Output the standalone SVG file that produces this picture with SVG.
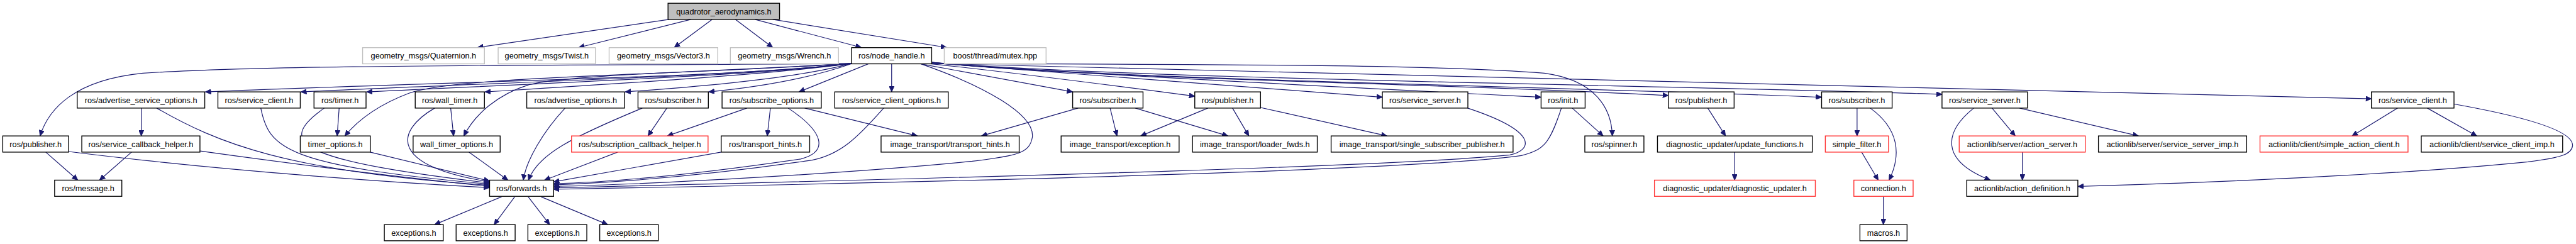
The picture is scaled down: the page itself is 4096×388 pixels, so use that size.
<svg xmlns="http://www.w3.org/2000/svg" width="4096" height="388" viewBox="0 0 4096 388">
<style>
.n rect{fill:#fff;stroke:#000;stroke-width:1.5}
.g rect{fill:#fff;stroke:#bfbfbf;stroke-width:1.5}
.r rect{fill:#fff;stroke:#ff3030;stroke-width:1.5}
.root rect{fill:#bfbfbf;stroke:#000;stroke-width:1.5}
text{font-family:"Liberation Sans",Arial,sans-serif;font-size:14px;fill:#000;text-anchor:middle}
#edges path{fill:none;stroke:#191970;stroke-width:1.3;marker-end:url(#ah)}
</style>
<defs>
<marker id="ah" markerUnits="userSpaceOnUse" markerWidth="11" markerHeight="9" refX="10" refY="4.5" orient="auto">
<path d="M0,0 L10,4.5 L0,9 z" fill="#191970" stroke="#191970" stroke-width="1"/>
</marker>
</defs>
<rect width="4096" height="388" fill="#fff"/>
<g transform="scale(0.90941)">
<g id="edges">
<path d="M1170,34 L835,83"/>
<path d="M1208,34 L1012,83"/>
<path d="M1245,34 L1179,83"/>
<path d="M1286,34 L1351,83"/>
<path d="M1320,34 L1506,83"/>
<path d="M1351,34 L1655,83"/>
<path d="M1489,111 C1000,115 500,112 250,128 C130,140 85,190 70,237.7"/>
<path d="M1489,111 C1300,135 800,142 359,160.7"/>
<path d="M1489,111 C1300,133 900,143 526,160.7"/>
<path d="M1489,111 C1320,132 1000,143 641,160.7"/>
<path d="M1489,111 C1150,133 800,133 715,163 C670,180 630,205 603,237.7"/>
<path d="M1489,111 C1350,130 1100,145 848,160.7"/>
<path d="M1489,111 C1250,125 1000,130 925,148 C870,165 830,200 811,237.7"/>
<path d="M1489,111 C1400,135 1250,150 1093,160.7"/>
<path d="M1490,111 C1430,132 1350,150 1239,160.7"/>
<path d="M1518,111.7 L1397,160.7"/>
<path d="M1559,111.7 L1559,160.7"/>
<path d="M1611,112 C1720,150 1810,200 1805,240 C1800,268 1780,272 1700,282 C1500,302 1150,322 968,326"/>
<path d="M1610,111.7 L1875.5,160.7"/>
<path d="M1629,111.7 C1800,130 1950,150 2089,168.3"/>
<path d="M1629,110 L2417,170"/>
<path d="M1629,110 C1900,130 2300,150 2694.5,170"/>
<path d="M1629,111 C2000,113 2500,111 2700,128 C2790,140 2818,190 2819,237.7"/>
<path d="M1629,109 C1900,138 2500,145 2917,167"/>
<path d="M1629,109 C1950,140 2700,150 3185,170"/>
<path d="M1629,109 C2000,140 3000,150 3395.5,165"/>
<path d="M1629,111 L4146.3,172.7"/>
<path d="M247,188.7 L247,237.7"/>
<path d="M274,189 C380,250 500,300 856,324"/>
<path d="M456,189 C470,260 500,290 856,322"/>
<path d="M567,189 C480,250 520,280 856,320"/>
<path d="M593,188.7 L589.5,237.7"/>
<path d="M80,266 L136,315"/>
<path d="M120,265 C400,300 700,320 856,328"/>
<path d="M230,266 L174,315"/>
<path d="M350,264 C500,285 700,310 856,326"/>
<path d="M647,266 L856,316.5"/>
<path d="M788,189 L793,237.7"/>
<path d="M760,189 C690,230 680,290 856,318"/>
<path d="M820,266 L888,315"/>
<path d="M988,189 C950,230 920,280 915,315"/>
<path d="M1123,189 C1000,240 940,270 924,315"/>
<path d="M1166,189 L1133,237.7"/>
<path d="M1306,189 L1167,237.7"/>
<path d="M1347,189 L1341.5,237.7"/>
<path d="M1378,189 C1440,230 1450,265 1400,278 C1250,300 1100,318 968,321"/>
<path d="M1407,189 L1604,237.7"/>
<path d="M1080,266 L952,315"/>
<path d="M1261,266 L968,318"/>
<path d="M1545,189 C1500,240 1470,270 1420,280 C1250,305 1100,318 968,323.5"/>
<path d="M2566,189 C2690,230 2680,262 2640,271 C2450,290 1800,308 968,328.5"/>
<path d="M2730,189 C2710,250 2700,262 2660,272 C2500,295 1800,316 968,331"/>
<path d="M1885,189 L1716,237.7"/>
<path d="M1941,189 L1953,237.7"/>
<path d="M1985,189 L2147,237.7"/>
<path d="M2112,189 L1994.5,237.7"/>
<path d="M2155,189 L2183.5,237.7"/>
<path d="M2204,188 L2425,237.7"/>
<path d="M2749,189 L2803,237.7"/>
<path d="M2986,189 L3017,237.7"/>
<path d="M3033,266 L3033,315"/>
<path d="M3247,189 L3247,237.7"/>
<path d="M3270,189 C3320,225 3325,270 3303,315"/>
<path d="M3255,266 L3284,315"/>
<path d="M3293,343.3 L3293,392.7"/>
<path d="M3451,189 C3400,230 3390,280 3480,315"/>
<path d="M3483,189 L3523.5,237.7"/>
<path d="M3531,189 L3739,237.7"/>
<path d="M3536,266 L3536,315"/>
<path d="M4192,189 L4112.5,237.7"/>
<path d="M4244,189 L4330.5,237.7"/>
<path d="M4291,182 C4420,205 4500,230 4498,255 C4496,270 4480,275 4420,283 C4200,305 3900,318 3633,326"/>
<path d="M877,344 L760,392.7"/>
<path d="M900,344 L864,392.7"/>
<path d="M923.5,344 L961,392.7"/>
<path d="M946,344 L1062.5,392.7"/>
</g>
<g id="n_root" class="root"><rect x="1168" y="5.7" width="195" height="28.3"/><text x="1265.5" y="24.9">quadrotor_aerodynamics.h</text></g>
<g id="n_quat" class="g"><rect x="634" y="83.3" width="213" height="28.3"/><text x="740.5" y="102.5">geometry_msgs/Quaternion.h</text></g>
<g id="n_twist" class="g"><rect x="871" y="83.3" width="170" height="28.3"/><text x="956" y="102.5">geometry_msgs/Twist.h</text></g>
<g id="n_vec3" class="g"><rect x="1065" y="83.3" width="190" height="28.3"/><text x="1160" y="102.5">geometry_msgs/Vector3.h</text></g>
<g id="n_wrench" class="g"><rect x="1277" y="83.3" width="189" height="28.3"/><text x="1371.5" y="102.5">geometry_msgs/Wrench.h</text></g>
<g id="n_node_handle" class="n"><rect x="1489" y="83.3" width="140" height="28.3"/><text x="1559" y="102.5">ros/node_handle.h</text></g>
<g id="n_boost" class="g"><rect x="1651" y="83.3" width="178" height="28.3"/><text x="1740" y="102.5">boost/thread/mutex.hpp</text></g>
<g id="n_adv_srv_opts" class="n"><rect x="135" y="160.7" width="223" height="28.3"/><text x="246.5" y="179.9">ros/advertise_service_options.h</text></g>
<g id="n_srv_client1" class="n"><rect x="381" y="160.7" width="144" height="28.3"/><text x="453" y="179.9">ros/service_client.h</text></g>
<g id="n_timer" class="n"><rect x="549" y="160.7" width="91" height="28.3"/><text x="594.5" y="179.9">ros/timer.h</text></g>
<g id="n_wall_timer" class="n"><rect x="726" y="160.7" width="121" height="28.3"/><text x="786.5" y="179.9">ros/wall_timer.h</text></g>
<g id="n_adv_opts" class="n"><rect x="921" y="160.7" width="171" height="28.3"/><text x="1006.5" y="179.9">ros/advertise_options.h</text></g>
<g id="n_subscriber1" class="n"><rect x="1115.5" y="160.7" width="123" height="28.3"/><text x="1177" y="179.9">ros/subscriber.h</text></g>
<g id="n_sub_opts" class="n"><rect x="1262.5" y="160.7" width="173.5" height="28.3"/><text x="1349.2" y="179.9">ros/subscribe_options.h</text></g>
<g id="n_srv_client_opts" class="n"><rect x="1459.5" y="160.7" width="198.5" height="28.3"/><text x="1558.7" y="179.9">ros/service_client_options.h</text></g>
<g id="n_subscriber2" class="n"><rect x="1875.5" y="160.7" width="123" height="28.3"/><text x="1937" y="179.9">ros/subscriber.h</text></g>
<g id="n_publisher2" class="n"><rect x="2089" y="160.7" width="115" height="28.3"/><text x="2146.5" y="179.9">ros/publisher.h</text></g>
<g id="n_srv_server1" class="n"><rect x="2417" y="160.7" width="149.5" height="28.3"/><text x="2491.7" y="179.9">ros/service_server.h</text></g>
<g id="n_init" class="n"><rect x="2694.5" y="160.7" width="77" height="28.3"/><text x="2733" y="179.9">ros/init.h</text></g>
<g id="n_publisher3" class="n"><rect x="2917" y="160.7" width="115" height="28.3"/><text x="2974.5" y="179.9">ros/publisher.h</text></g>
<g id="n_subscriber3" class="n"><rect x="3185" y="160.7" width="123.3" height="28.3"/><text x="3246.6" y="179.9">ros/subscriber.h</text></g>
<g id="n_srv_server2" class="n"><rect x="3395.5" y="160.7" width="149.5" height="28.3"/><text x="3470.2" y="179.9">ros/service_server.h</text></g>
<g id="n_srv_client2" class="n"><rect x="4146.3" y="160.7" width="144.4" height="28.3"/><text x="4218.5" y="179.9">ros/service_client.h</text></g>
<g id="n_publisher_l" class="n"><rect x="4.8" y="237.7" width="115.2" height="28.3"/><text x="62.4" y="256.9">ros/publisher.h</text></g>
<g id="n_srv_cb_helper" class="n"><rect x="143" y="237.7" width="206.6" height="28.3"/><text x="246.3" y="256.9">ros/service_callback_helper.h</text></g>
<g id="n_timer_opts" class="n"><rect x="525" y="237.7" width="122.5" height="28.3"/><text x="586.2" y="256.9">timer_options.h</text></g>
<g id="n_wall_timer_opts" class="n"><rect x="722.3" y="237.7" width="152.2" height="28.3"/><text x="798.4" y="256.9">wall_timer_options.h</text></g>
<g id="n_sub_cb_helper" class="r"><rect x="999.3" y="237.7" width="238.7" height="28.3"/><text x="1118.6" y="256.9">ros/subscription_callback_helper.h</text></g>
<g id="n_transport_hints" class="n"><rect x="1261" y="237.7" width="154.7" height="28.3"/><text x="1338.3" y="256.9">ros/transport_hints.h</text></g>
<g id="n_it_transport_hints" class="n"><rect x="1540.5" y="237.7" width="241.5" height="28.3"/><text x="1661.2" y="256.9">image_transport/transport_hints.h</text></g>
<g id="n_it_exception" class="n"><rect x="1855.3" y="237.7" width="206.3" height="28.3"/><text x="1958.4" y="256.9">image_transport/exception.h</text></g>
<g id="n_it_loader_fwds" class="n"><rect x="2085" y="237.7" width="218.2" height="28.3"/><text x="2194.1" y="256.9">image_transport/loader_fwds.h</text></g>
<g id="n_it_ssp" class="n"><rect x="2327.4" y="237.7" width="318.1" height="28.3"/><text x="2486.4" y="256.9">image_transport/single_subscriber_publisher.h</text></g>
<g id="n_spinner" class="n"><rect x="2771" y="237.7" width="103.3" height="28.3"/><text x="2822.6" y="256.9">ros/spinner.h</text></g>
<g id="n_update_funcs" class="n"><rect x="2898" y="237.7" width="270.7" height="28.3"/><text x="3033.3" y="256.9">diagnostic_updater/update_functions.h</text></g>
<g id="n_simple_filter" class="r"><rect x="3191.5" y="237.7" width="110.5" height="28.3"/><text x="3246.7" y="256.9">simple_filter.h</text></g>
<g id="n_action_server" class="r"><rect x="3425.6" y="237.7" width="220.4" height="28.3"/><text x="3535.8" y="256.9">actionlib/server/action_server.h</text></g>
<g id="n_srv_server_imp" class="n"><rect x="3669" y="237.7" width="259.2" height="28.3"/><text x="3798.6" y="256.9">actionlib/server/service_server_imp.h</text></g>
<g id="n_simple_action_client" class="r"><rect x="3951.5" y="237.7" width="258.8" height="28.3"/><text x="4080.9" y="256.9">actionlib/client/simple_action_client.h</text></g>
<g id="n_srv_client_imp" class="n"><rect x="4233.5" y="237.7" width="247.2" height="28.3"/><text x="4357.1" y="256.9">actionlib/client/service_client_imp.h</text></g>
<g id="n_message" class="n"><rect x="95.5" y="315" width="117.5" height="28.3"/><text x="154.2" y="334.2">ros/message.h</text></g>
<g id="n_forwards" class="n"><rect x="856" y="315" width="112" height="28.3"/><text x="912" y="334.2">ros/forwards.h</text></g>
<g id="n_diag_updater" class="r"><rect x="2892.7" y="315" width="281.3" height="28.3"/><text x="3033.3" y="334.2">diagnostic_updater/diagnostic_updater.h</text></g>
<g id="n_connection" class="r"><rect x="3241.4" y="315" width="103.6" height="28.3"/><text x="3293.2" y="334.2">connection.h</text></g>
<g id="n_action_def" class="n"><rect x="3438.7" y="315" width="194.3" height="28.3"/><text x="3535.8" y="334.2">actionlib/action_definition.h</text></g>
<g id="n_exc1" class="n"><rect x="672" y="392.7" width="103" height="28.3"/><text x="723.5" y="411.9">exceptions.h</text></g>
<g id="n_exc2" class="n"><rect x="797.5" y="392.7" width="103.2" height="28.3"/><text x="849.1" y="411.9">exceptions.h</text></g>
<g id="n_exc3" class="n"><rect x="923" y="392.7" width="103" height="28.3"/><text x="974.5" y="411.9">exceptions.h</text></g>
<g id="n_exc4" class="n"><rect x="1048.6" y="392.7" width="102.4" height="28.3"/><text x="1099.8" y="411.9">exceptions.h</text></g>
<g id="n_macros" class="n"><rect x="3252" y="392.7" width="82.4" height="28.3"/><text x="3293.2" y="411.9">macros.h</text></g>
</g>
</svg>
